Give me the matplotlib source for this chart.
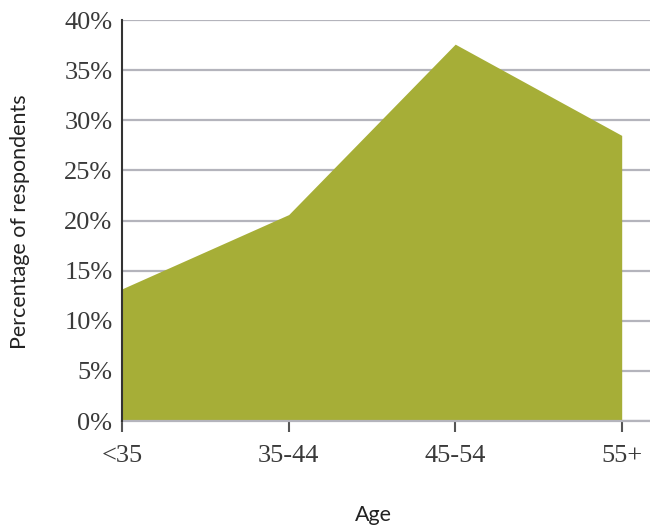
import matplotlib.pyplot as plt
import numpy as np

# Share of respondents by age group
ages = ['<35', '35-44', '45-54', '55+']
share = [13.2, 20.6, 37.6, 28.5]

x = np.arange(len(ages))

fig = plt.figure(figsize=(6.5, 5.29), dpi=100)
ax = fig.add_axes([0.188, 0.204, 0.812, 0.758])

ax.fill_between(x, 0, share, color='#a6ae37', linewidth=0, zorder=2)

ax.set_xlim(0, 3.17)
ax.set_ylim(0, 40)
ax.set_yticks(np.arange(0, 41, 5))
ax.set_yticklabels([f'{v}%' for v in range(0, 41, 5)])
ax.set_xticks(x)
ax.set_xticklabels(ages)

ax.grid(axis='y', color='#b4b4bc', linewidth=1.6, zorder=1)
ax.set_axisbelow(True)

for s in ['top', 'right']:
    ax.spines[s].set_visible(False)
ax.spines['left'].set_color('#333333')
ax.spines['left'].set_linewidth(1.5)
ax.spines['left'].set_zorder(3)
ax.spines['bottom'].set_color('#b4b4bc')
ax.spines['bottom'].set_linewidth(1.6)

ax.tick_params(axis='y', length=0, pad=7, labelsize=19, labelcolor='#3a3a3a')
ax.tick_params(axis='x', length=8, width=1.5, color='#555555', pad=9,
               labelsize=19, labelcolor='#3a3a3a')
for lab in ax.get_xticklabels() + ax.get_yticklabels():
    lab.set_fontfamily('Liberation Serif')

ax.set_xlabel('Age', fontsize=15.5, fontfamily='Lato', color='#222222')
ax.set_ylabel('Percentage of respondents', fontsize=15.5, fontfamily='Lato',
              color='#222222')
ax.yaxis.label.set_va('center')
ax.xaxis.label.set_va('center')
ax.yaxis.set_label_coords(20 / 650, 1 - 222 / 529, transform=fig.transFigure)
ax.xaxis.set_label_coords(373 / 650, 1 - 515 / 529, transform=fig.transFigure)

fig.savefig('out.png', dpi=100)
